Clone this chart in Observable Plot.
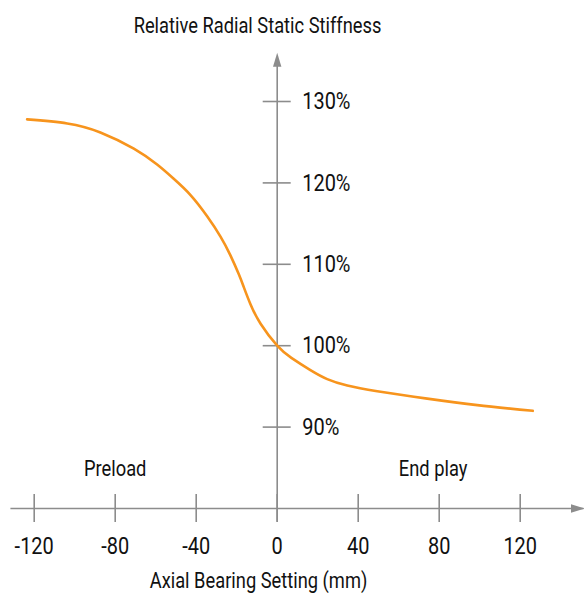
<!DOCTYPE html>
<html>
<head>
<meta charset="utf-8">
<script src="https://cdn.jsdelivr.net/npm/d3@7"></script>
<script src="https://cdn.jsdelivr.net/npm/@observablehq/plot@0.6"></script>
<style>
  html, body { margin: 0; padding: 0; background: #fff; overflow: hidden; }
  #chart svg { display: block; }
</style>
</head>
<body>
<div id="chart"></div>
<script>
// ---- data ----
const title = "Relative Radial Static Stiffness";
const xAxisLabel = "Axial Bearing Setting (mm)";
const xTicks = [-120, -80, -40, 0, 40, 80, 120];
const yTicks = [90, 100, 110, 120, 130];
const yTickLabels = ["90%", "100%", "110%", "120%", "130%"];
const regionLabels = ["Preload", "End play"];
const regionX = [-80, 77];
const regionY = [84.8, 84.8];
const curveX = [-123.5, -103.7, -87.3, -70.8, -59.3, -51.1, -42.8, -34.6, -28.0, -23.1, -19.0, -16.5, -13.2, -8.2, 0, 7.0, 16.4, 24.7, 34.6, 49.4, 74.1, 98.8, 126.2];
const curveY = [127.8, 127.3, 126.2, 124.2, 122.25, 120.5, 118.5, 115.9, 113.4, 111.1, 108.8, 107.2, 105.1, 102.7, 100.0, 98.5, 97.0, 95.9, 95.1, 94.4, 93.5, 92.7, 92.0];

const curve = curveX.map((x, i) => ({x, y: curveY[i]}));
const regions = regionLabels.map((t, i) => ({t, x: regionX[i], y: regionY[i]}));
const yLabelData = yTicks.map((v, i) => ({v, t: yTickLabels[i]}));

// axis geometry (data units)
const axisY = 80, axisX = 0;
const hAxisFrom = -131.5, hAxisTo = 151.5;
const vAxisFrom = 78.3, vAxisTo = 136.0;

const FONT = "Roboto, 'Liberation Sans', sans-serif";
const FS = 22;
const FS_TICK = 24;
const AXIS = "#8c8c8c";
const ORANGE = "#F7941D";
const INK = "#111";

const arrowHead = {
  draw(ctx, size) {
    ctx.moveTo(0, 0);
    ctx.lineTo(4.2, 14);
    ctx.lineTo(-4.2, 14);
    ctx.closePath();
  }
};

const chart = Plot.plot({
  width: 584,
  height: 593,
  margin: 0,
  style: {fontFamily: FONT, background: "#fff"},
  x: {domain: [-120, 120], range: [33.7, 519.7], axis: null},
  y: {domain: [80, 130], range: [508, 101], axis: null},
  marks: [
    // axes lines
    Plot.ruleY([axisY], {x1: hAxisFrom, x2: hAxisTo, stroke: AXIS, strokeWidth: 1.6}),
    Plot.ruleX([axisX], {y1: vAxisFrom, y2: vAxisTo - 1.5, stroke: AXIS, strokeWidth: 1.6}),
    // arrowheads
    Plot.dot([{x: axisX, y: vAxisTo}], {x: "x", y: "y", symbol: arrowHead, fill: AXIS, stroke: "none"}),
    Plot.dot([{x: hAxisTo, y: axisY}], {x: "x", y: "y", symbol: arrowHead, rotate: 90, fill: AXIS, stroke: "none", dx: 1}),
    // ticks
    Plot.ruleX(xTicks, {x: d => d, y1: axisY, y2: axisY, insetTop: -14, insetBottom: -14, stroke: AXIS, strokeWidth: 1.6}),
    Plot.ruleY(yTicks, {y: d => d, x1: axisX, x2: axisX, insetLeft: -14, insetRight: -14, stroke: AXIS, strokeWidth: 1.6}),
    // tick labels
    Plot.text(xTicks, {x: d => d, y: axisY, dy: 38, text: d => String(d), fontSize: FS_TICK, fill: INK}),
    Plot.text(yLabelData, {x: axisX, y: "v", dx: 25, text: "t", textAnchor: "start", fontSize: FS_TICK, fill: INK}),
    // region labels
    Plot.text(regions, {x: "x", y: "y", text: "t", fontSize: FS, fill: INK}),
    // curve
    Plot.line(curve, {x: "x", y: "y", stroke: ORANGE, strokeWidth: 2.6, curve: "natural"}),
    // titles
    Plot.text([title], {frameAnchor: "top-left", textAnchor: "middle", lineAnchor: "middle", dx: 257, dy: 25, text: d => d, fontSize: FS, fill: INK, className: "ttl"}),
    Plot.text([xAxisLabel], {frameAnchor: "bottom-left", textAnchor: "middle", lineAnchor: "middle", dx: 258, dy: -13, text: d => d, fontSize: FS, fill: INK})
  ]
});
document.getElementById("chart").appendChild(chart);

// Emulate the condensed typeface of the original: compress all text horizontally.
const titleEl = chart.querySelector(".ttl text");
const k = titleEl ? Math.min(1, 248 / titleEl.getComputedTextLength()) : 0.84;
chart.querySelectorAll("text").forEach(el => {
  const t = el.getAttribute("transform");
  if (t && t.includes("translate")) {
    el.setAttribute("transform", `${t} scale(${k},1)`);
  } else {
    const x = +(el.getAttribute("x") || 0), y = +(el.getAttribute("y") || 0);
    el.setAttribute("transform", `translate(${x},${y}) scale(${k},1) translate(${-x},${-y})${t ? " " + t : ""}`);
  }
});
</script>
</body>
</html>
